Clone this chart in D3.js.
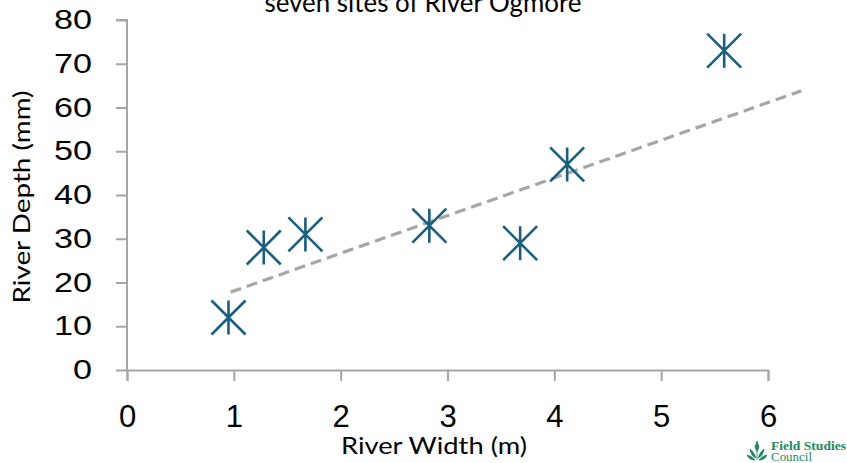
<!DOCTYPE html>
<html><head><meta charset="utf-8">
<script src="https://cdn.jsdelivr.net/npm/d3@7"></script>
<style>html,body{margin:0;padding:0;background:#fff;overflow:hidden}</style>
</head><body>
<svg id="chart" width="847" height="463"></svg>
<script>
const widths = [0.95, 1.28, 1.67, 2.83, 3.68, 4.12, 5.59];
const depths = [12, 28, 31, 33, 29, 47, 73];
const trendX = [0.97, 6.31];
const trendY = [17.8, 63.8];
const xTicks = [0, 1, 2, 3, 4, 5, 6];
const yTicks = [0, 10, 20, 30, 40, 50, 60, 70, 80];
const titleText = "seven sites of River Ogmore";
const xTitle = "River Width (m)";
const yTitle = "River Depth (mm)";

const svg = d3.select("#chart");
const x = d3.scaleLinear().domain([0, 6]).range([127, 768]);
const y = d3.scaleLinear().domain([0, 80]).range([370, 20]);
const axisColor = "#a6a6a6";
const markColor = "#1b5f7f";

// title (top cut off as in reference)
svg.append("text").attr("x", 423).attr("y", 12).attr("text-anchor", "middle")
  .style("font-family", "Lato, 'Open Sans', sans-serif").style("font-size", "27px")
  .attr("textLength", 317).attr("lengthAdjust", "spacingAndGlyphs")
  .attr("fill", "#000").text(titleText);

// axes
const xa = svg.append("g").attr("transform", `translate(0,${y(0)})`)
  .call(d3.axisBottom(x).tickValues(xTicks).tickSize(11).tickPadding(24).tickFormat(d3.format("d")));
const ya = svg.append("g").attr("transform", `translate(${x(0)},0)`)
  .call(d3.axisLeft(y).tickValues(yTicks).tickSize(11).tickPadding(24).tickFormat(d3.format("d")));
[xa, ya].forEach(g => {
  g.select(".domain").attr("stroke", axisColor).attr("stroke-width", 2);
  g.selectAll(".tick line").attr("stroke", axisColor).attr("stroke-width", 2);
  g.selectAll(".tick text").attr("fill", "#000")
    .style("font-family", "'Liberation Sans', Arial, sans-serif");
});
xa.selectAll(".tick text").style("font-size", "31px").attr("dy", "0.71em");
ya.selectAll(".tick text").style("font-size", "27px")
  .attr("textLength", d => String(d).length * 19).attr("lengthAdjust", "spacingAndGlyphs");
ya.select(".domain").attr("d", `M-11,${y(80)}H0V${y(0) + 1}`);

// axis titles
svg.append("text").attr("x", 434).attr("y", 454).attr("text-anchor", "middle")
  .style("font-family", "Lato, 'Open Sans', sans-serif").style("font-size", "24px")
  .attr("textLength", 186).attr("lengthAdjust", "spacingAndGlyphs")
  .attr("fill", "#000").text(xTitle);
svg.append("text").attr("transform", `translate(30,197) rotate(-90)`).attr("text-anchor", "middle")
  .style("font-family", "Lato, 'Open Sans', sans-serif").style("font-size", "24px")
  .attr("textLength", 213).attr("lengthAdjust", "spacingAndGlyphs")
  .attr("fill", "#000").text(yTitle);

// trendline
svg.append("line")
  .attr("x1", x(trendX[0])).attr("y1", y(trendY[0]))
  .attr("x2", x(trendX[1])).attr("y2", y(trendY[1]))
  .attr("stroke", axisColor).attr("stroke-width", 3.2).attr("stroke-dasharray", "11,6");

// markers (asterisk: vertical + two diagonals)
const r = 17;
const pts = widths.map((w, i) => [w, depths[i]]);
const mk = svg.append("g").selectAll("g").data(pts).join("g")
  .attr("transform", d => `translate(${x(d[0])},${y(d[1])})`);
mk.append("path")
  .attr("d", `M0,${-r}V${r}M${-r},${-r}L${r},${r}M${-r},${r}L${r},${-r}`)
  .attr("stroke", markColor).attr("stroke-width", 2.6).attr("fill", "none");

// logo
const logo = svg.append("g").attr("transform", "translate(747,440)");
const green = "#1f8a5c";
logo.append("path").attr("d", "M10,1 L12,7 L10,12 L8,7 Z M10,12 L10,20 M3,9 Q7,12 9,18 Q4,16 3,9 Z M17,9 Q13,12 11,18 Q16,16 17,9 Z M0,15 Q5,16 8,20 Q2,20 0,15 Z M20,15 Q15,16 12,20 Q18,20 20,15 Z")
  .attr("fill", green).attr("stroke", green).attr("stroke-width", 0.8);
logo.append("text").attr("x", 24).attr("y", 10).style("font-family", "'Liberation Serif', serif")
  .style("font-size", "12px").style("font-weight", "bold")
  .attr("textLength", 75).attr("lengthAdjust", "spacingAndGlyphs")
  .attr("fill", green).text("Field Studies");
logo.append("text").attr("x", 24).attr("y", 21).style("font-family", "'Liberation Serif', serif")
  .style("font-size", "11.5px")
  .attr("textLength", 41).attr("lengthAdjust", "spacingAndGlyphs")
  .attr("fill", green).text("Council");
</script>
</body></html>
